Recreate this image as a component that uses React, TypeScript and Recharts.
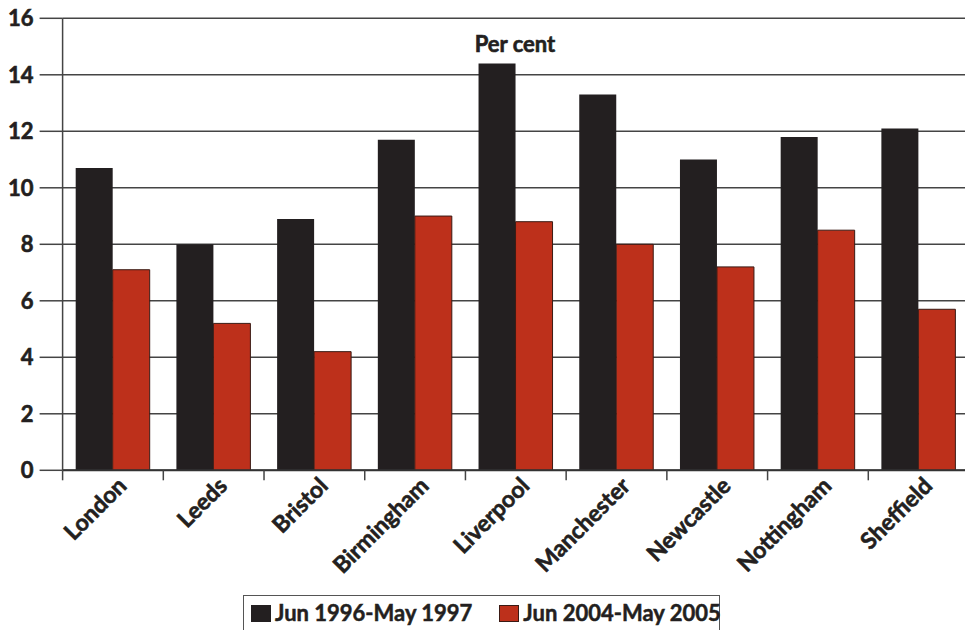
import { BarChart, Bar, XAxis, YAxis, CartesianGrid } from 'recharts';

const cities = ['London', 'Leeds', 'Bristol', 'Birmingham', 'Liverpool', 'Manchester', 'Newcastle', 'Nottingham', 'Sheffield'];
const earlyPeriod = [10.7, 8.0, 8.9, 11.7, 14.4, 13.3, 11.0, 11.8, 12.1];
const latePeriod = [7.1, 5.2, 4.2, 9.0, 8.8, 8.0, 7.2, 8.5, 5.7];
const periodNames = ['Jun 1996-May 1997', 'Jun 2004-May 2005'];
const periodColors = ['#231f20', '#bd301b'];
const yTicks = [0, 2, 4, 6, 8, 10, 12, 14, 16];
const unitLabel = 'Per cent';

const font = "Lato, 'Open Sans', sans-serif";
const ink = '#231f20';
const lineColor = '#444';

const data = cities.map((city, i) => ({
    city,
    early: earlyPeriod[i],
    late: latePeriod[i],
}));

// heavier text: a thin stroke of the same ink thickens the glyphs
const heavy = { stroke: ink, strokeWidth: 0.6, paintOrder: 'stroke' as const };

// category labels sit at 45 degrees; tick marks go on the band edges, not the centres
const CityTick = (props: any) => {
    const { x, y, payload } = props;
    const half = payload && payload.offset ? payload.offset : 50.35;
    const ax = x + 15;
    const ay = y + 17;
    return (
        <g>
            <line x1={x - half} x2={x - half} y1={y} y2={y + 10} stroke={lineColor} strokeWidth={1.5} />
            <text
                x={ax}
                y={ay}
                transform={`rotate(-45 ${ax} ${ay})`}
                textAnchor="end"
                fontFamily={font}
                fontWeight={700}
                fontSize={23}
                fill={ink}
                {...heavy}
            >
                {payload.value}
            </text>
        </g>
    );
};

export default function App() {
    return (
        <div style={{ position: 'absolute', left: 0, top: 0, width: 965, height: 630, overflow: 'hidden', background: '#fff' }}>
            <BarChart
                width={975}
                height={630}
                data={data}
                margin={{ top: 18.3, right: 6, bottom: 0, left: 0 }}
                barCategoryGap="13%"
                barGap={0}
            >
                <CartesianGrid vertical={false} stroke={lineColor} strokeWidth={1.5} />
                <XAxis
                    dataKey="city"
                    interval={0}
                    height={159.7}
                    tickSize={0}
                    tickMargin={0}
                    tickLine={false}
                    axisLine={{ stroke: '#333', strokeWidth: 2 }}
                    tick={<CityTick />}
                />
                <YAxis
                    domain={[0, 16]}
                    ticks={yTicks}
                    interval={0}
                    width={62.6}
                    tickSize={23}
                    tickMargin={6}
                    axisLine={{ stroke: lineColor, strokeWidth: 1.5 }}
                    tickLine={{ stroke: lineColor, strokeWidth: 1.5 }}
                    tick={{ fontSize: 22, fontWeight: 700, fill: ink, fontFamily: font, ...heavy }}
                />
                <Bar dataKey="early" name={periodNames[0]} fill={periodColors[0]} isAnimationActive={false} />
                <Bar dataKey="late" name={periodNames[1]} fill={periodColors[1]} stroke="#3a1a14" strokeWidth={1} isAnimationActive={false} />
                <text x={515} y={52} textAnchor="middle" fontFamily={font} fontWeight={700} fontSize={22} fill={ink} {...heavy}>
                    {unitLabel}
                </text>
            </BarChart>
            <div
                style={{
                    position: 'absolute',
                    left: 243,
                    top: 595,
                    width: 477,
                    height: 50,
                    boxSizing: 'border-box',
                    border: '1.5px solid #555',
                    display: 'flex',
                    alignItems: 'flex-start',
                    paddingTop: 5,
                    paddingLeft: 7,
                    fontFamily: font,
                    fontWeight: 700,
                    fontSize: 22,
                    color: ink,
                    lineHeight: '24px',
                    whiteSpace: 'nowrap',
                    WebkitTextStroke: '0.5px ' + ink,
                }}
            >
                {periodNames.map((name, i) => (
                    <div key={name} style={{ display: 'flex', alignItems: 'center', marginRight: i === 0 ? 27 : 0 }}>
                        <span
                            style={{
                                display: 'inline-block',
                                width: 20,
                                height: 17,
                                background: periodColors[i],
                                border: i === 1 ? '1px solid #3a1a14' : 'none',
                                boxSizing: 'border-box',
                                marginRight: 4,
                                WebkitTextStroke: '0',
                            }}
                        />
                        <span>{name}</span>
                    </div>
                ))}
            </div>
        </div>
    );
}
